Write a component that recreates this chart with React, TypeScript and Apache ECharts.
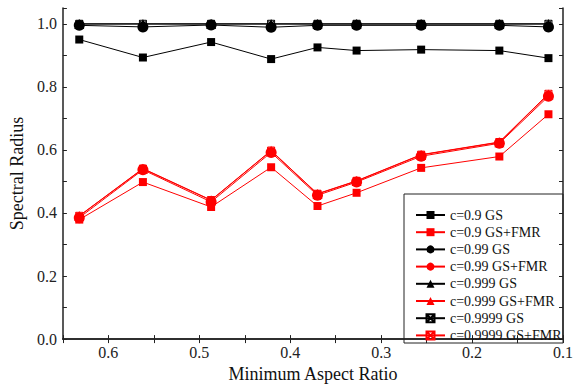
import React, { useEffect, useRef } from "react";
import * as echarts from "echarts";

const xValues = [0.632, 0.562, 0.487, 0.421, 0.37, 0.327, 0.256, 0.17, 0.116];
const gs09 = [0.95, 0.893, 0.942, 0.888, 0.925, 0.915, 0.918, 0.915, 0.891];
const fmr09 = [0.379, 0.498, 0.419, 0.545, 0.422, 0.464, 0.543, 0.579, 0.713];
const gs099 = [0.995, 0.99, 0.996, 0.989, 0.995, 0.995, 0.995, 0.995, 0.99];
const fmr099 = [0.385, 0.537, 0.435, 0.592, 0.456, 0.498, 0.58, 0.621, 0.77];
const gs0999 = [0.999, 0.999, 0.999, 0.999, 0.999, 0.999, 0.999, 0.999, 0.999];
const fmr0999 = [0.39, 0.54, 0.44, 0.597, 0.46, 0.501, 0.584, 0.624, 0.776];
const gs09999 = [1.0, 1.0, 1.0, 1.0, 1.0, 1.0, 1.0, 1.0, 1.0];
const fmr09999 = [0.391, 0.541, 0.441, 0.598, 0.461, 0.502, 0.585, 0.625, 0.778];

const seriesNames = [
  "c=0.9 GS",
  "c=0.9 GS+FMR",
  "c=0.99 GS",
  "c=0.99 GS+FMR",
  "c=0.999 GS",
  "c=0.999 GS+FMR",
  "c=0.9999 GS",
  "c=0.9999 GS+FMR",
];
const seriesData = [gs09, fmr09, gs099, fmr099, gs0999, fmr0999, gs09999, fmr09999];

const FONT = "'Liberation Serif', 'Times New Roman', serif";
const CROSS_BOX = "path://M0,0L10,0L10,10L0,10ZM0,0L10,10M10,0L0,10";

const isMultiple = (v: number, step: number) => Math.abs(v / step - Math.round(v / step)) < 1e-6;

export default function App() {
  const ref = useRef<HTMLDivElement>(null);
  useEffect(() => {
    if (!ref.current) return;
    const chart = echarts.init(ref.current, undefined, { renderer: "svg" });
    const series = seriesNames.map((name, i) => {
      const red = i % 2 === 1;
      const color = red ? "#ff0000" : "#000000";
      const kind = Math.floor(i / 2);
      const symbol = ["rect", "circle", "triangle", CROSS_BOX][kind];
      const symbolSize = [8, 11, 10, 7][kind];
      const hollow = kind === 3;
      const z = [3, 5, 4, 2][kind];
      return {
        name,
        type: "line",
        z,
        data: xValues.map((x, j) => [x, seriesData[i][j]]),
        symbol,
        symbolSize,
        showSymbol: true,
        lineStyle: { color, width: 1 },
        itemStyle: hollow
          ? { color: "rgba(0,0,0,0)", borderColor: color, borderWidth: 1 }
          : { color, borderColor: color, borderWidth: 0 },
        emphasis: { disabled: true },
      };
    });
    const axisLine = { show: true, lineStyle: { color: "#222", width: 1.5 } };
    const labelStyle = { fontFamily: FONT, fontSize: 16, color: "#222" };
    chart.setOption({
      animation: false,
      backgroundColor: "#ffffff",
      grid: { left: 59, right: 16, top: 8, bottom: 45 },
      xAxis: [
        {
          type: "value",
          min: 0.1,
          max: 0.65,
          interval: 0.05,
          inverse: true,
          position: "bottom",
          name: "Minimum Aspect Ratio",
          nameLocation: "middle",
          nameGap: 22,
          nameTextStyle: { fontFamily: FONT, fontSize: 18, color: "#111" },
          axisLine,
          axisTick: { show: true, inside: true, length: 4, lineStyle: { color: "#222" } },
          axisLabel: {
            ...labelStyle,
            interval: 0,
            margin: 5,
            formatter: (v: number) => (isMultiple(v, 0.1) ? v.toFixed(1) : ""),
          },
          splitLine: { show: false },
        },
        {
          type: "value",
          min: 0.1,
          max: 0.65,
          interval: 0.05,
          inverse: true,
          position: "top",
          axisLine,
          axisTick: { show: true, inside: true, length: 4, lineStyle: { color: "#222" } },
          axisLabel: { show: false },
          splitLine: { show: false },
        },
      ],
      yAxis: [
        {
          type: "value",
          min: 0,
          max: 1.05,
          interval: 0.1,
          position: "left",
          name: "Spectral Radius",
          nameLocation: "middle",
          nameGap: 25,
          nameTextStyle: { fontFamily: FONT, fontSize: 18, color: "#111" },
          axisLine,
          axisTick: { show: true, inside: true, length: 4, lineStyle: { color: "#222" } },
          axisLabel: {
            ...labelStyle,
            margin: 6,
            formatter: (v: number) => (isMultiple(v, 0.2) && v <= 1.0001 ? v.toFixed(1) : ""),
          },
          splitLine: { show: false },
        },
        {
          type: "value",
          min: 0,
          max: 1.05,
          interval: 0.1,
          position: "right",
          axisLine,
          axisTick: { show: true, inside: true, length: 4, lineStyle: { color: "#222" } },
          axisLabel: { show: false },
          splitLine: { show: false },
        },
      ],
      legend: {
        orient: "vertical",
        left: 415,
        top: 208,
        itemWidth: 29,
        itemHeight: 10,
        itemGap: 3.2,
        padding: 0,
        selectedMode: false,
        textStyle: { fontFamily: FONT, fontSize: 14, color: "#111" },
        data: seriesNames,
      },
      graphic: [
        {
          type: "rect",
          shape: { x: 404, y: 194, width: 159, height: 149 },
          style: { fill: "none", stroke: "#222", lineWidth: 1 },
          silent: true,
        },
      ],
      series,
    });
    return () => chart.dispose();
  }, []);
  return (
    <div
      ref={ref}
      style={{ position: "fixed", left: 0, top: 0, width: 579, height: 388, background: "#fff" }}
    />
  );
}
